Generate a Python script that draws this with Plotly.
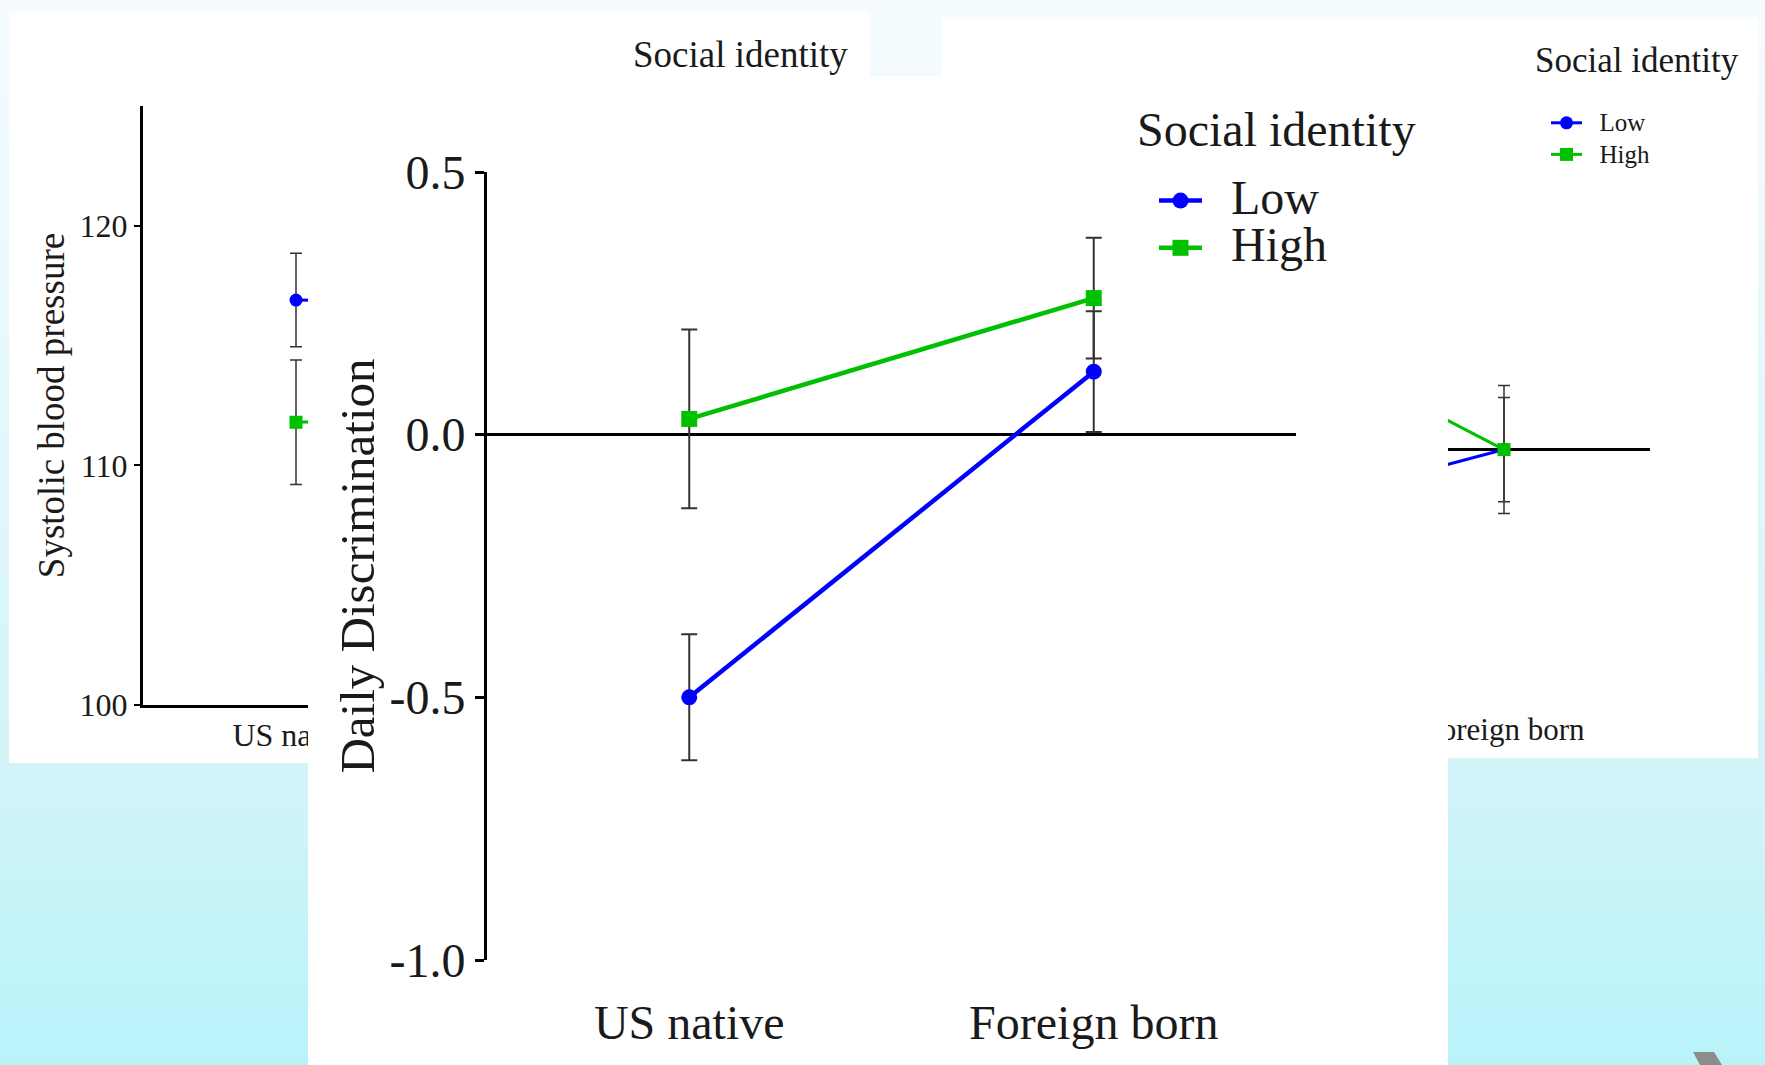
import plotly.graph_objects as go

W, H = 1765, 1065

# ---------------- data ----------------
categories = ["US native", "Foreign born"]

# left panel: systolic blood pressure
sbp_low = [116.9, 116.7]
sbp_low_err = [1.95, 1.9]
sbp_high = [111.8, 112.1]
sbp_high_err = [2.6, 2.5]
sbp_ticks = [100, 110, 120]

# centre panel: daily discrimination
disc_low = [-0.50, 0.12]
disc_low_err = [0.12, 0.115]
disc_high = [0.03, 0.26]
disc_high_err = [0.17, 0.115]
disc_ticks = [-1.0, -0.5, 0.0, 0.5]
disc_tick_text = ["-1.0", "-0.5", "0.0", "0.5"]

# right panel (partly hidden)
third_low = [-0.23, 0.0]
third_low_err = [0.19, 0.19]
third_high = [0.45, 0.0]
third_high_err = [0.155, 0.155]

series_names = ["Low", "High"]

BLUE = "#0000FF"
GREEN = "#00C000"
ERR = "#333333"
TXT = "#1a1a1a"
FONT = "Liberation Serif"


def xdom(a, b):
    return [a / W, b / W]


def ydom(top, bottom):
    return [1 - bottom / H, 1 - top / H]


fig = go.Figure()


def dummy(xa, ya):
    fig.add_trace(go.Scatter(x=[None], y=[None], xaxis=xa, yaxis=ya,
                             showlegend=False, hoverinfo="skip"))


# background subplot + panel backgrounds (subplot order gives stacking)
dummy("x", "y")
dummy("x2", "y2")


def add_pair(xa, ya, lows, lerr, highs, herr, lw, msize, ethick, ewidth, legend=None,
             names=None):
    for vals, errs, col, sym, nm in [(lows, lerr, BLUE, "circle", names[0] if names else "Low"),
                                     (highs, herr, GREEN, "square", names[1] if names else "High")]:
        fig.add_trace(go.Scatter(
            x=categories, y=vals, xaxis=xa, yaxis=ya, name=nm,
            mode="lines+markers",
            line=dict(color=col, width=lw),
            marker=dict(symbol=sym, size=msize, color=col),
            error_y=dict(type="data", array=errs, color=ERR, thickness=ethick, width=ewidth),
            showlegend=legend is not None,
            legend=legend if legend else "legend",
        ))


# panel A plot
add_pair("x3", "y3", sbp_low, sbp_low_err, sbp_high, sbp_high_err, 3, 13, 1.5, 6)
# panel C bg + plot
dummy("x4", "y4")
add_pair("x5", "y5", third_low, third_low_err, third_high, third_high_err, 3, 13, 1.5, 6,
         legend="legend2",
         names=["<span style='font-size:25px'>\u00a0\u00a0" + n + "</span>" for n in series_names])
# panel B bg + plot
dummy("x6", "y6")
add_pair("x7", "y7", disc_low, disc_low_err, disc_high, disc_high_err, 4.5, 16, 2, 8,
         legend="legend",
         names=["<span style='font-size:48px'>\u00a0\u00a0" + n + "</span>" for n in series_names])

hidden = dict(visible=False, showgrid=False, zeroline=False, fixedrange=True, automargin=False)

layout = dict(
    width=W, height=H, autosize=False,
    margin=dict(l=0, r=0, t=0, b=0, pad=0, autoexpand=False),
    paper_bgcolor="#bdf3fa",
    plot_bgcolor="#ffffff",
    font=dict(family=FONT, color=TXT),
    showlegend=True,
    xaxis=dict(domain=[0, 1], range=[0, W], anchor="y", **hidden),
    yaxis=dict(domain=[0, 1], range=[H, 0], anchor="x", **hidden),
    xaxis2=dict(domain=xdom(9, 870), range=[0, 1], anchor="y2", **hidden),
    yaxis2=dict(domain=ydom(12, 763), range=[0, 1], anchor="x2", **hidden),
    xaxis3=dict(domain=xdom(143, 755), anchor="y3", type="category", range=[-0.5, 1.5],
                showline=True, linecolor="black", linewidth=3, ticks="", showgrid=False,
                zeroline=False, tickfont=dict(size=32, color=TXT), ticklabelstandoff=0,
                automargin=False),
    yaxis3=dict(domain=ydom(106, 705), anchor="x3", range=[100, 125], tickvals=sbp_ticks,
                showline=True, linecolor="black", linewidth=3, ticks="outside", ticklen=6,
                tickwidth=2, tickcolor="black", showgrid=False, zeroline=False,
                tickfont=dict(size=32, color=TXT), automargin=False,
                title=dict(text="\u00a0Systolic blood pressure", font=dict(size=37, color=TXT),
                           standoff=4)),
    xaxis4=dict(domain=xdom(942, 1758), range=[0, 1], anchor="y4", **hidden),
    yaxis4=dict(domain=ydom(19, 758), range=[0, 1], anchor="x4", **hidden),
    xaxis5=dict(domain=xdom(1066, 1650), anchor="y5", type="category", range=[-0.5, 1.5],
                showline=False, ticks="", showgrid=False, zeroline=False,
                tickfont=dict(size=31, color=TXT), ticklabelstandoff=6, automargin=False),
    yaxis5=dict(domain=ydom(113, 702), anchor="x5", range=[-0.75, 1.0],
                showline=True, linecolor="black", linewidth=3, ticks="outside", ticklen=6,
                showgrid=False, zeroline=True, zerolinecolor="black", zerolinewidth=3,
                tickfont=dict(size=31, color=TXT), automargin=False),
    xaxis6=dict(domain=xdom(308, 1448), range=[0, 1], anchor="y6", **hidden),
    yaxis6=dict(domain=ydom(76, 1065), range=[0, 1], anchor="x6", **hidden),
    xaxis7=dict(domain=xdom(487, 1296), anchor="y7", type="category", range=[-0.5, 1.5],
                showline=False, ticks="", showgrid=False, zeroline=False,
                tickfont=dict(size=48, color=TXT), ticklabelstandoff=30, automargin=False),
    yaxis7=dict(domain=ydom(172, 960), anchor="x7", range=[-1.0, 0.5],
                tickvals=disc_ticks, ticktext=disc_tick_text,
                showline=True, linecolor="black", linewidth=3, ticks="outside", ticklen=9,
                tickwidth=3, tickcolor="black", showgrid=False,
                zeroline=True, zerolinecolor="black", zerolinewidth=3,
                tickfont=dict(size=48, color=TXT), automargin=False,
                title=dict(text="\u00a0\u00a0Daily Discrimination", font=dict(size=49, color=TXT),
                           standoff=0)),
    legend=dict(x=1154 / W, xanchor="left", y=1 - 172 / H, yanchor="top",
                bgcolor="rgba(0,0,0,0)", borderwidth=0, itemwidth=43,
                font=dict(size=34, color=TXT, family=FONT), itemclick=False),
    legend2=dict(x=1546 / W, xanchor="left", y=1 - 102 / H, yanchor="top",
                 bgcolor="rgba(0,0,0,0)", borderwidth=0, itemwidth=31,
                 font=dict(size=22, color=TXT, family=FONT), itemclick=False),
)
fig.update_layout(**layout)

# legend titles / panel-A legend title
for txt, x, y, size, anchor in [("Social identity", 740, 54, 37, "center"),
                                 ("Social identity", 1135, 130, 48, "left"),
                                 ("Social identity", 1533, 60, 35, "left")]:
    fig.add_annotation(text=txt, xref="paper", yref="paper", x=x / W, y=1 - y / H,
                       xanchor=anchor, yanchor="middle", showarrow=False,
                       font=dict(size=size, color=TXT, family=FONT))

# background gradient (drawn inside the full-page background subplot)
stops = [(0.0, (246, 252, 254)), (0.72, (210, 244, 249)), (1.0, (185, 243, 250))]


def grad(t):
    for (t0, c0), (t1, c1) in zip(stops[:-1], stops[1:]):
        if t <= t1:
            f = (t - t0) / (t1 - t0)
            return "rgb(%d,%d,%d)" % tuple(round(a + (b - a) * f) for a, b in zip(c0, c1))
    return "rgb(%d,%d,%d)" % stops[-1][1]


shapes = []
step = 8
for y0 in range(0, H, step):
    shapes.append(dict(type="rect", xref="x", yref="y", x0=0, x1=W, y0=y0, y1=min(H, y0 + step + 1),
                       fillcolor=grad((y0 + step / 2) / H), line=dict(width=0), layer="below"))
shapes.append(dict(type="path", xref="x", yref="y",
                   path="M 1693 1052 L 1714 1052 L 1722 1065 L 1700 1065 Z",
                   fillcolor="#8c8c8c", line=dict(width=0), layer="below"))
fig.update_layout(shapes=shapes)

fig.write_html("out.html")
